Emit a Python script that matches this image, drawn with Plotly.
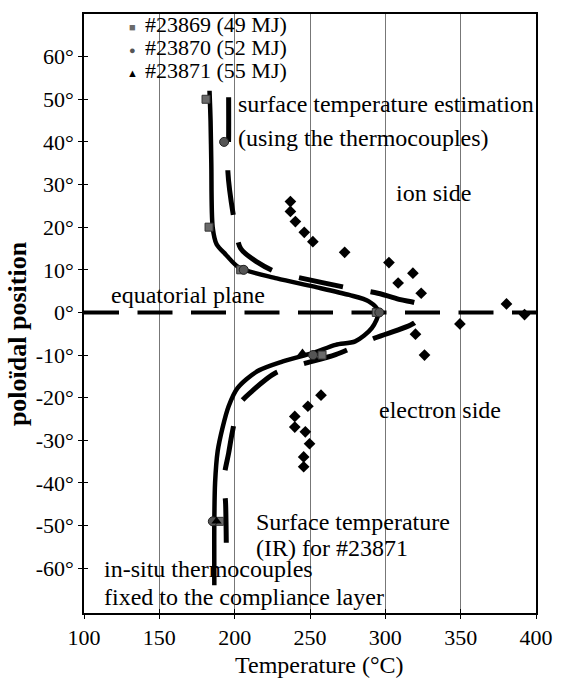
import plotly.graph_objects as go

# ---------------- data ----------------
x_ticks = [100, 150, 200, 250, 300, 350, 400]
y_ticks = [-60, -50, -40, -30, -20, -10, 0, 10, 20, 30, 40, 50, 60]
y_tick_text = ["-60°", "-50°", "-40°", "-30°", "-20°", "-10°", "0°",
               "10°", "20°", "30°", "40°", "50°", "60°"]

shot_names = ["#23869 (49 MJ)", "#23870 (52 MJ)", "#23871 (55 MJ)"]

# in-situ thermocouples (markers)
tc23869_T = [181, 183, 204, 294, 258, 190]
tc23869_P = [50, 20, 10, 0, -10, -49]
tc23870_T = [193, 206, 296, 252, 185.5]
tc23870_P = [40, 10, 0, -10, -49]
tc23871_T = [245, 188]
tc23871_P = [-9.5, -49]

# solid curve (thermocouple fit)
fit_T = [183.3, 184, 184.5, 185.4, 188, 194, 203, 228, 252, 276, 289, 295.5,
         291, 280, 267, 252, 232, 215, 202, 196, 192, 188.7, 187, 186.5, 186.5]
fit_P = [52, 45, 35, 20, 16, 13.6, 10.5, 8, 6.1, 4.1, 2.6, 0.2,
         -3.7, -6.8, -7.6, -9.5, -11.5, -13.8, -17.7, -22, -27, -32.6, -40, -49, -64]

# dashed curve (surface temperature estimation)
est_T = [196, 196, 195.5, 199.5, 204, 215, 228, 245, 276, 295, 310, 323, 325,
         319, 293, 267, 243, 227, 213, 203, 198.5, 196, 193, 194, 194.5]
est_P = [50.5, 41, 33, 22, 15, 11.8, 9.4, 8, 5.7, 4.5, 3, 1.8, 0,
         -2.5, -6, -9.9, -12.3, -14.2, -18, -21.6, -28, -33, -38.7, -45, -56]

# IR surface temperature #23871 (diamonds)
ir_T = [237, 237, 240.3, 246.2, 251.9, 273, 302.4, 318.3, 308.5, 323.8, 380.4, 392.4,
        349.5, 320, 326, 257.3, 248.6, 239.9, 239.9, 246.9, 249.7, 245.8, 245.8]
ir_P = [26, 23.7, 21.3, 18.8, 16.6, 14.1, 11.7, 9.2, 6.9, 4.5, 2.0, -0.5,
        -2.7, -5.1, -10, -19.4, -22, -24.4, -26.9, -28, -30.8, -33.9, -36.2]

# equatorial plane
eq_T = [100, 400]
eq_P = [0, 0]

# ---------------- layout geometry ----------------
W, H = 565, 681
L, R, T, B = 84, 21, 12, 68
PW, PH = W - L - R, H - T - B
FONT = "Liberation Serif, Times New Roman, serif"


def px(xp, yp):
    return (xp - L) / PW, (H - B - yp) / PH


fig = go.Figure()

fig.add_trace(go.Scatter(x=eq_T, y=eq_P, mode="lines",
                         line=dict(color="black", width=4, dash="35px,18.5px"),
                         showlegend=False, hoverinfo="skip"))
fig.add_trace(go.Scatter(x=est_T, y=est_P, mode="lines",
                         line=dict(color="black", width=5, dash="45px,28px",
                                   shape="spline", smoothing=0.8),
                         showlegend=False))
fig.add_trace(go.Scatter(x=fit_T, y=fit_P, mode="lines",
                         line=dict(color="black", width=4.5, shape="spline", smoothing=0.8),
                         showlegend=False))
fig.add_trace(go.Scatter(x=ir_T, y=ir_P, mode="markers",
                         marker=dict(symbol="diamond", size=9, color="black"),
                         showlegend=False))
fig.add_trace(go.Scatter(x=tc23869_T, y=tc23869_P, mode="markers", name=shot_names[0],
                         marker=dict(symbol="square", size=8, color="#6a6a6a",
                                     line=dict(color="#333", width=1)),
                         showlegend=False))
fig.add_trace(go.Scatter(x=tc23870_T, y=tc23870_P, mode="markers", name=shot_names[1],
                         marker=dict(symbol="circle", size=9, color="#555",
                                     line=dict(color="#222", width=1)),
                         showlegend=False))
fig.add_trace(go.Scatter(x=tc23871_T, y=tc23871_P, mode="markers", name=shot_names[2],
                         marker=dict(symbol="triangle-up", size=9, color="black"),
                         showlegend=False))

annotations = []


def add_text(text, xp, yp, size=24, anchor="left", color="black", angle=0):
    ax, ay = px(xp, yp)
    annotations.append(dict(text=text, x=ax, y=ay, xref="paper", yref="paper",
                            xanchor=anchor, yanchor="middle", showarrow=False,
                            textangle=angle, borderpad=0,
                            font=dict(family=FONT, size=size, color=color)))


# legend (key glyphs + labels)
legend_glyphs = ["■", "●", "▲"]
legend_colors = ["#6a6a6a", "#555", "black"]
for i, (g, c, name) in enumerate(zip(legend_glyphs, legend_colors, shot_names)):
    yy = 23 + i * 23
    add_text(g, 133, yy + 2, size=11, anchor="center", color=c)
    add_text(name, 145, yy, size=22)

add_text("surface temperature estimation", 240, 102)
add_text("(using the thermocouples)", 240, 136)
add_text("ion side", 400, 192)
add_text("equatorial plane", 110, 294)
add_text("electron side", 383, 409)
add_text("Surface temperature", 258, 522)
add_text("(IR) for #23871", 258, 548)
add_text("in-situ thermocouples", 103, 569)
add_text("fixed to the compliance layer", 103, 597)
add_text("Temperature (°C)", 324, 665, anchor="center")
add_text("<b>poloïdal position</b>", 17, 333, size=26, anchor="center", angle=-90)

axis_common = dict(showline=True, linecolor="black", linewidth=1.5, zeroline=False,
                   tickfont=dict(family=FONT, size=22, color="black"))

fig.update_layout(
    width=W, height=H,
    margin=dict(l=L, r=R, t=T, b=B, pad=0),
    paper_bgcolor="white", plot_bgcolor="white",
    showlegend=False,
    font=dict(family=FONT, size=22, color="black"),
    xaxis=dict(range=[100, 400], tickvals=x_ticks, ticks="outside", ticklen=4,
               tickcolor="black", showgrid=True, gridcolor="#777", gridwidth=1,
               mirror=True, **axis_common),
    yaxis=dict(range=[-70.5, 70], tickvals=y_ticks, ticktext=y_tick_text,
               ticks="outside", ticklen=4, tickcolor="black", showgrid=False,
               mirror=True, **axis_common),
    xaxis2=dict(range=[100, 400], overlaying="x", side="bottom", tickvals=x_ticks,
                ticks="inside", ticklen=4, tickcolor="black", showticklabels=False,
                showgrid=False, zeroline=False, showline=False),
    yaxis2=dict(range=[-70.5, 70], overlaying="y", side="left", tickvals=y_ticks,
                ticks="inside", ticklen=4, tickcolor="black", showticklabels=False,
                showgrid=False, zeroline=False, showline=False),
    annotations=annotations,
)

# invisible trace to activate the overlay axes (crossing tick marks)
fig.add_trace(go.Scatter(x=[100], y=[0], xaxis="x2", yaxis="y2", mode="markers",
                         marker=dict(opacity=0), showlegend=False, hoverinfo="skip"))

fig.write_html("out.html")
